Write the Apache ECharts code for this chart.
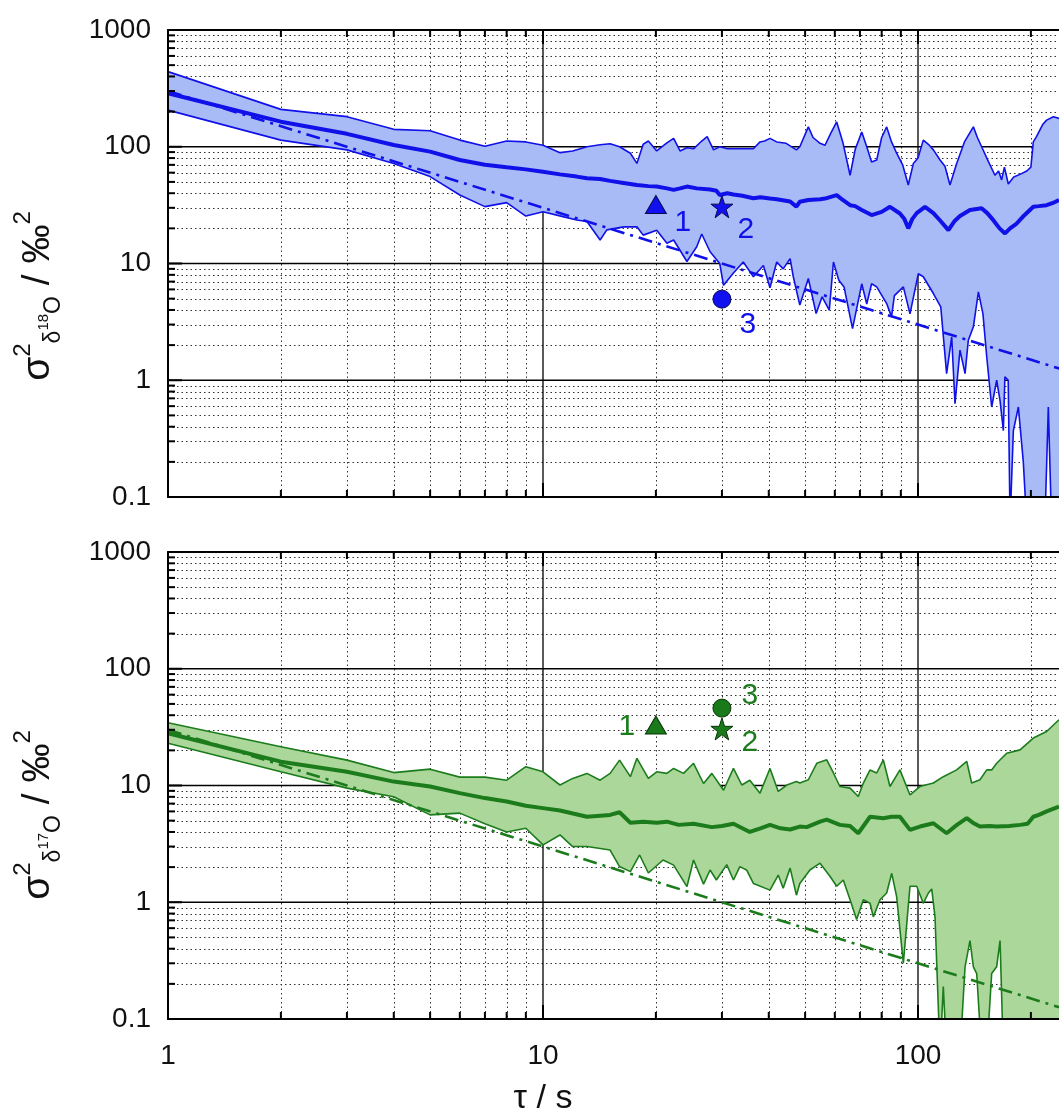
<!DOCTYPE html>
<html><head><meta charset="utf-8">
<script src="https://cdn.jsdelivr.net/npm/echarts@6/dist/echarts.min.js"></script>
<style>html,body{margin:0;padding:0;background:#fff;overflow:hidden}#c{width:1059px;height:1118px}</style>
</head><body><div id="c"></div>
<script>
// ---------- data (tau in s, variance in permil^2) ----------
const upperTop = [[1,440],[2,209],[3,181],[4,141],[5,137],[6,114],[7,101],[8,112],[9,110],[10,103],[11.1,89],[12,92],[13.1,100],[14.2,104],[15.1,106],[16,100],[17.1,88],[17.8,72],[18.5,105],[19.1,112],[20.1,92],[21.4,108],[22.3,118],[23.2,92],[24.2,98],[25.2,96],[26.5,112],[27.4,122],[28.5,94],[29.6,100],[31,96],[34,96],[36.4,96],[37.9,110],[39,112],[40.3,118],[42,110],[44.5,107],[47.4,94],[48.4,100],[51,148],[52.5,120],[54.8,107],[56.5,103],[58.5,130],[60.7,163],[63,110],[65.9,57],[68,95],[70.8,134],[73,100],[75.2,74],[77.6,77],[80,120],[82.5,148],[85,110],[87.7,88],[91,70],[94.2,47],[97.2,72],[100,80],[103.3,114],[106.6,105],[109.9,94],[114.5,77],[118,68],[121.7,47],[126.8,72],[133,110],[140.5,148],[144,120],[147.8,100],[154,75],[160.4,57],[164,62],[167.1,52],[170,67],[174.1,48],[180,55],[187.1,58],[195,62],[200,67],[203,110],[207,122],[215,155],[220.3,169],[229.6,181],[237.7,175]];
const meanTop = [[1,287],[2,164],[3,129],[4,103.5],[5,90.8],[6,77],[7,70],[8,66.7],[9,64],[10,61],[11.1,58],[12.3,55.5],[13.1,53.7],[14.2,53],[15.1,51],[16.4,49],[17.8,47],[19.1,46],[20.1,45.6],[21.4,44],[22.3,42.7],[23.2,44],[24.2,45.6],[25.7,44],[27.9,43],[29,42],[29.6,38.6],[31,40],[32.2,39],[34,38],[36.4,36.2],[38,37],[40.3,36],[42,35.5],[45.6,34],[47.4,30.7],[48.4,33.8],[51,35],[54.8,35.5],[56.5,36],[60.7,38.5],[63,35],[65.9,31.6],[68,31],[70.8,28.7],[75.2,26],[80,27.7],[84.2,30.6],[89.5,26.8],[92,24],[94.2,20],[96.5,24],[99.2,27],[104.4,30.6],[109.9,27],[115,23],[120.5,19.3],[125,23],[129.4,25.5],[137.6,28.7],[147.8,29.7],[153,27],[158.8,23.5],[165,20],[170.6,18.1],[176,20],[183.3,22],[190,25],[203,30.6],[210,31],[220.3,31.6],[229,33],[237.7,35]];
const lowerTop = [[1,206],[2,114],[3,94],[4,72],[5,55.5],[6,38.6],[7,30.7],[8,33.2],[9,25.5],[10,27.8],[11.3,25.2],[12.3,23.6],[13.1,22.9],[14.2,15.9],[14.8,19.4],[16.4,20.6],[17.8,20.6],[18.5,17.5],[20.1,19.3],[21.4,14.9],[22.3,15.9],[24.2,10.4],[25.7,13.9],[26.5,17.9],[27.9,12.6],[29.6,10],[30.3,6.5],[32.2,8.3],[34.2,10.3],[36.4,7.7],[38.7,9.6],[40.3,6.2],[42,10.3],[43.7,9],[45.6,11],[46.5,7.7],[48.4,4.4],[51,7.44],[53.5,3.73],[55.5,5.18],[58,3.98],[59.5,10.3],[61.5,7.2],[63.5,6.3],[66.9,2.77],[70.8,6.7],[73,4.5],[75.2,6.7],[77.6,6.3],[82.5,4.54],[85,3.49],[86.5,5.3],[91.4,6.3],[95.2,3.7],[100.2,8.2],[103.3,7.7],[109.9,5.53],[115,4.25],[119.2,1.14],[123,2.35],[125.5,0.63],[129.4,1.81],[133.5,1.14],[136.2,2.2],[140.5,2.87],[144.9,5.72],[149,3.7],[152.5,1.59],[157.2,0.59],[162.1,1.0],[165.5,0.67],[168.9,0.37],[170.5,1.07],[174,1.0],[176,0.06],[179.6,0.37],[185.2,0.59],[190.9,0.2],[194.9,0.06],[218,0.06],[222.6,0.59],[227,0.06],[237.7,0.06]];
const fitTop = [[1,300],[1000,0.3]];
const pointsTop = [{name:'1',tau:20,v:32,sym:'triangle',off:[27,18]},{name:'2',tau:30,v:30.6,sym:'star',off:[24,23]},{name:'3',tau:30,v:4.95,sym:'circle',off:[26,26]}];

const upperBot = [[1,34.5],[2,21.5],[3,16.5],[4,12.9],[5,13.8],[6,11.8],[7,11.8],[8,11.1],[9,14.5],[10,13.1],[11.1,10.1],[12,11.5],[13.1,12.7],[14.2,11.1],[15.1,12.7],[16,16.5],[17.1,11.9],[17.8,17.1],[19.1,11.5],[20.1,13.1],[21.4,12.7],[22.3,14],[23.7,12.7],[25.2,15.5],[26.8,10.4],[28.2,12.7],[30.3,9.1],[32.2,14],[33.9,10.1],[35.6,11.1],[37.9,8.6],[40.3,14],[42.4,8.9],[44.7,10.1],[47.4,10.8],[48.4,10.5],[51,11.2],[53.7,15.5],[57.1,16.6],[59.5,12.8],[61.9,9.8],[65.9,9.5],[69.3,8.05],[71.5,10.5],[74.5,13.6],[77.6,12.8],[80.8,16.6],[84.2,9.8],[89.5,13.6],[95.2,8.3],[101.2,9.8],[109.9,10.5],[116.8,11.9],[126.8,13.6],[134.9,16.1],[139,10.5],[146.3,11.2],[152.5,13.6],[157.2,13.6],[162.1,15.5],[172.4,18.9],[187.1,20.2],[203,25.5],[220.3,29],[237.7,36.6]];
const meanBot = [[1,28],[2,16],[3,13.1],[4,10.8],[5,9.8],[6,8.6],[7,7.8],[8,7.3],[9,6.7],[10,6.4],[11.1,6.1],[13.1,5.4],[15.1,5.6],[16,5.9],[17.1,4.8],[18.5,4.9],[20.1,4.8],[21.4,4.9],[23,4.6],[25.2,4.7],[28.2,4.4],[30,4.5],[32.2,4.7],[35.6,4.0],[38,4.3],[40.3,4.6],[43,4.3],[45.6,4.2],[48.4,4.45],[50.5,4.4],[54.8,4.9],[57.1,5.1],[61.9,4.6],[65.9,4.5],[69.3,3.9],[74.5,5.4],[80.8,5.25],[85,5.4],[89.5,5.4],[95.2,4.17],[101.2,4.45],[109.9,4.75],[119.2,3.9],[127,4.6],[134.9,5.25],[140,4.8],[146.3,4.45],[155,4.5],[162.1,4.45],[175,4.5],[187.1,4.6],[196,4.7],[203,5.4],[210,5.6],[220.3,6.0],[237.7,6.6]];
const lowerBot = [[1,23],[2,13.1],[3,9.5],[4,8.0],[5,5.6],[6,5.8],[7,4.7],[8,4.0],[9,4.3],[10,3.1],[11.1,3.77],[12,3.0],[13.1,3.0],[15.1,2.8],[16,2.02],[17.1,1.83],[18.1,2.54],[19.1,1.78],[20.9,2.3],[22.3,2.08],[24.2,1.36],[25.2,2.3],[26.8,1.43],[27.9,1.89],[29,1.55],[30.9,2.1],[32.2,1.55],[33.5,2.02],[34.9,1.89],[36.4,1.45],[40.3,1.27],[42.4,1.71],[43.7,1.32],[45.6,1.96],[47.4,1.15],[48.4,1.45],[51.5,1.89],[54.8,2.16],[58.3,1.66],[60.7,1.37],[63.2,1.55],[65.9,1.05],[68.6,0.71],[71.5,1.05],[74.5,0.98],[76,0.75],[79.2,1.05],[82.5,1.2],[85.1,1.77],[87.7,1.12],[91.4,0.30],[95.2,1.37],[99.2,1.37],[103.3,0.98],[106.6,1.2],[108.8,1.3],[111,0.75],[114.5,0.05],[116.8,0.19],[119.2,0.05],[129.4,0.05],[133.5,0.28],[137.6,0.47],[140.5,0.28],[143.4,0.245],[147.8,0.05],[152.5,0.05],[157.2,0.245],[162.1,0.28],[165.5,0.47],[168.9,0.05],[237.7,0.05]];
const fitBot = [[1,30],[1000,0.03]];
const pointsBot = [{name:'1',tau:20,v:33,sym:'triangle',off:[-29,2]},{name:'3',tau:30,v:46,sym:'circle',off:[28,-12]},{name:'2',tau:30,v:30.5,sym:'star',off:[28,14]}];

// ---------- axis ticks / grid values ----------
const xMajor = [1,10,100,1000];
const xMinor = [2,3,4,5,6,7,8,9,20,30,40,50,60,70,80,90,200,300];
const yMajor = [0.1,1,10,100,1000];
const yMinor = [0.2,0.3,0.4,0.5,0.6,0.7,0.8,0.9,2,3,4,5,6,7,8,9,20,30,40,50,60,70,80,90,200,300,400,500,600,700,800,900];
const xLabels = ['1','10','100'];
const yLabels = ['0.1','1','10','100','1000'];

// ---------- styling ----------
const FONT = "'Liberation Sans', Arial, Helvetica, sans-serif";
const panels = [
  {upper:upperTop, mean:meanTop, lower:lowerTop, fit:fitTop, pts:pointsTop, line:'#1010e8', fill:'#a9bbf6', mark:'#1010f0', markBorder:'#0a0a50', top:30},
  {upper:upperBot, mean:meanBot, lower:lowerBot, fit:fitBot, pts:pointsBot, line:'#1c7c1c', fill:'#abd79b', mark:'#1a7a1a', markBorder:'#083508', top:552}
];
const STAR = 'path://M50,0 L61.8,35.1 L98.9,35.1 L68.9,57.1 L80.3,92.4 L50,70.6 L19.7,92.4 L31.1,57.1 L1.1,35.1 L38.2,35.1 Z';

function gridRender(params, api){
  const cs = params.coordSys;
  const x0 = cs.x, y0 = cs.y, x1 = cs.x + cs.width, y1 = cs.y + cs.height;
  const ch = [];
  const dot = {stroke:'#333', lineWidth:1, lineDash:[1.5,3]};
  const solid = {stroke:'#000', lineWidth:1.3};
  xMinor.forEach(v=>{const p = Math.round(api.coord([v,1])[0])+0.5; if(p>x0+1 && p<x1) ch.push({type:'line',shape:{x1:p,y1:y0,x2:p,y2:y1},style:dot});});
  yMinor.forEach(v=>{const p = Math.round(api.coord([1,v])[1])+0.5; if(p>y0+1 && p<y1-1) ch.push({type:'line',shape:{x1:x0,y1:p,x2:x1,y2:p},style:dot});});
  xMajor.forEach(v=>{const p = api.coord([v,1])[0]; if(p>x0+1 && p<x1) ch.push({type:'line',shape:{x1:p,y1:y0,x2:p,y2:y1},style:solid});});
  yMajor.forEach(v=>{const p = api.coord([1,v])[1]; if(p>y0+1 && p<y1-1) ch.push({type:'line',shape:{x1:x0,y1:p,x2:x1,y2:p},style:solid});});
  return {type:'group', children:ch};
}
function tickRender(params, api){
  const cs = params.coordSys;
  const x0 = cs.x, y0 = cs.y, y1 = cs.y + cs.height;
  const ch = [];
  const st = {stroke:'#000', lineWidth:2};
  const add = (a,b,c,d)=>ch.push({type:'line',shape:{x1:a,y1:b,x2:c,y2:d},style:st});
  xMinor.forEach(v=>{const p = api.coord([v,1])[0]; add(p,y1,p,y1-7); add(p,y0,p,y0+7);});
  xMajor.forEach(v=>{const p = api.coord([v,1])[0]; if(p>x0+1){ add(p,y1,p,y1-14); add(p,y0,p,y0+14);} });
  yMinor.forEach(v=>{const p = api.coord([1,v])[1]; add(x0,p,x0+7,p);});
  yMajor.forEach(v=>{const p = api.coord([1,v])[1]; add(x0,p,x0+14,p);});
  return {type:'group', children:ch};
}
function bandRender(upper, lower, fill){
  return function(params, api){
    const pts = upper.map(p=>api.coord(p)).concat(lower.slice().reverse().map(p=>api.coord(p)));
    return {type:'polygon', shape:{points:pts}, style:{fill:fill, stroke:null}};
  };
}

const grid = [], xAxis = [], yAxis = [], series = [];
panels.forEach((P, i)=>{
  // three decades span 1125 px; the plot runs past the right edge of the picture
  grid.push({left:168, width:1125, top:P.top, height:467, show:false, outerBoundsMode:'none', containLabel:false});
  const axLine = {show:true, lineStyle:{color:'#000', width:2}};
  xAxis.push({type:'log', logBase:10, min:1, max:1000, gridIndex:i, position:'bottom', z:10,
    axisLine:axLine, axisTick:{show:false}, splitLine:{show:false}, minorTick:{show:false},
    axisLabel:{show:i===1, margin:23, fontSize:28, color:'#111', fontFamily:FONT,
      formatter:(v)=>{const k = Math.round(Math.log10(v)); return xLabels[k] !== undefined ? xLabels[k] : '';}}});
  xAxis.push({type:'log', logBase:10, min:1, max:1000, gridIndex:i, position:'top', z:10,
    axisLine:axLine, axisTick:{show:false}, splitLine:{show:false}, axisLabel:{show:false}});
  yAxis.push({type:'log', logBase:10, min:0.1, max:1000, gridIndex:i, z:10,
    axisLine:axLine, axisTick:{show:false}, splitLine:{show:false}, minorTick:{show:false},
    axisLabel:{margin:17, fontSize:28, color:'#111', fontFamily:FONT,
      formatter:(v)=>{const k = Math.round(Math.log10(v))+1; return yLabels[k] !== undefined ? yLabels[k] : '';}}});
  const xi = 2*i, yi = i;
  series.push({type:'custom', xAxisIndex:xi, yAxisIndex:yi, z:1, silent:true, clip:true, data:[[1,1]], renderItem:gridRender});
  series.push({type:'custom', xAxisIndex:xi, yAxisIndex:yi, z:2, silent:true, clip:true, data:[[1,1]], renderItem:bandRender(P.upper, P.lower, P.fill)});
  const ln = (data, w, extra)=>Object.assign({type:'line', xAxisIndex:xi, yAxisIndex:yi, z:3, data:data, showSymbol:false, symbol:'none', silent:true, clip:true, animation:false,
    lineStyle:{color:P.line, width:w}}, extra||{});
  series.push(ln(P.upper, 1.6));
  series.push(ln(P.lower, 1.6));
  series.push(ln(P.fit, 2.5, {lineStyle:{color:P.line, width:2.6, type:[14,6,3,6]}}));
  series.push(ln(P.mean, 4));
  series.push({type:'scatter', xAxisIndex:xi, yAxisIndex:yi, z:4, silent:true, animation:false,
    data:P.pts.map(p=>({value:[p.tau,p.v], symbol:p.sym==='star'?STAR:p.sym,
      symbolSize:p.sym==='triangle'?[21,18]:(p.sym==='star'?22:18),
      label:{show:true, formatter:p.name, position:'inside', offset:p.off, fontSize:30, color:P.line, fontFamily:FONT}})),
    itemStyle:{color:P.mark, borderColor:P.markBorder, borderWidth:1, opacity:1}});
  series.push({type:'custom', xAxisIndex:xi, yAxisIndex:yi, z:5, silent:true, clip:false, data:[[1,1]], renderItem:tickRender});
});

const richY = (iso)=>({
  text:'{s|σ}{sp|2}{sb|δ}{ss|'+iso+'}{sb|O}{n| / ‰}{sp2|2}',
  rich:{
    s:{fontSize:39, fontFamily:FONT, fill:'#111', lineHeight:54},
    n:{fontSize:39, fontFamily:FONT, fill:'#111', lineHeight:54},
    sp:{fontSize:24, fontFamily:FONT, fill:'#111', verticalAlign:'top', lineHeight:26},
    sp2:{fontSize:24, fontFamily:FONT, fill:'#111', verticalAlign:'top', lineHeight:26},
    sb:{fontSize:23, fontFamily:FONT, fill:'#111', verticalAlign:'bottom', lineHeight:26},
    ss:{fontSize:15, fontFamily:FONT, fill:'#111', verticalAlign:'bottom', lineHeight:16, padding:[0,0,14,0]}
  },
  align:'center', verticalAlign:'middle'
});

const option = {
  animation:false,
  backgroundColor:'#fff',
  grid, xAxis, yAxis, series,
  graphic:[
    {type:'text', x:38, y:296, rotation:Math.PI/2, style:richY('18'), z:20},
    {type:'text', x:38, y:815, rotation:Math.PI/2, style:richY('17'), z:20},
    {type:'text', x:543, y:1099, style:{text:'τ / s', fontSize:34, fontFamily:FONT, fill:'#111', align:'center', verticalAlign:'middle'}, z:20}
  ]
};
const chart = echarts.init(document.getElementById('c'), null, {renderer:'canvas'});
chart.setOption(option);
</script>
</body></html>
